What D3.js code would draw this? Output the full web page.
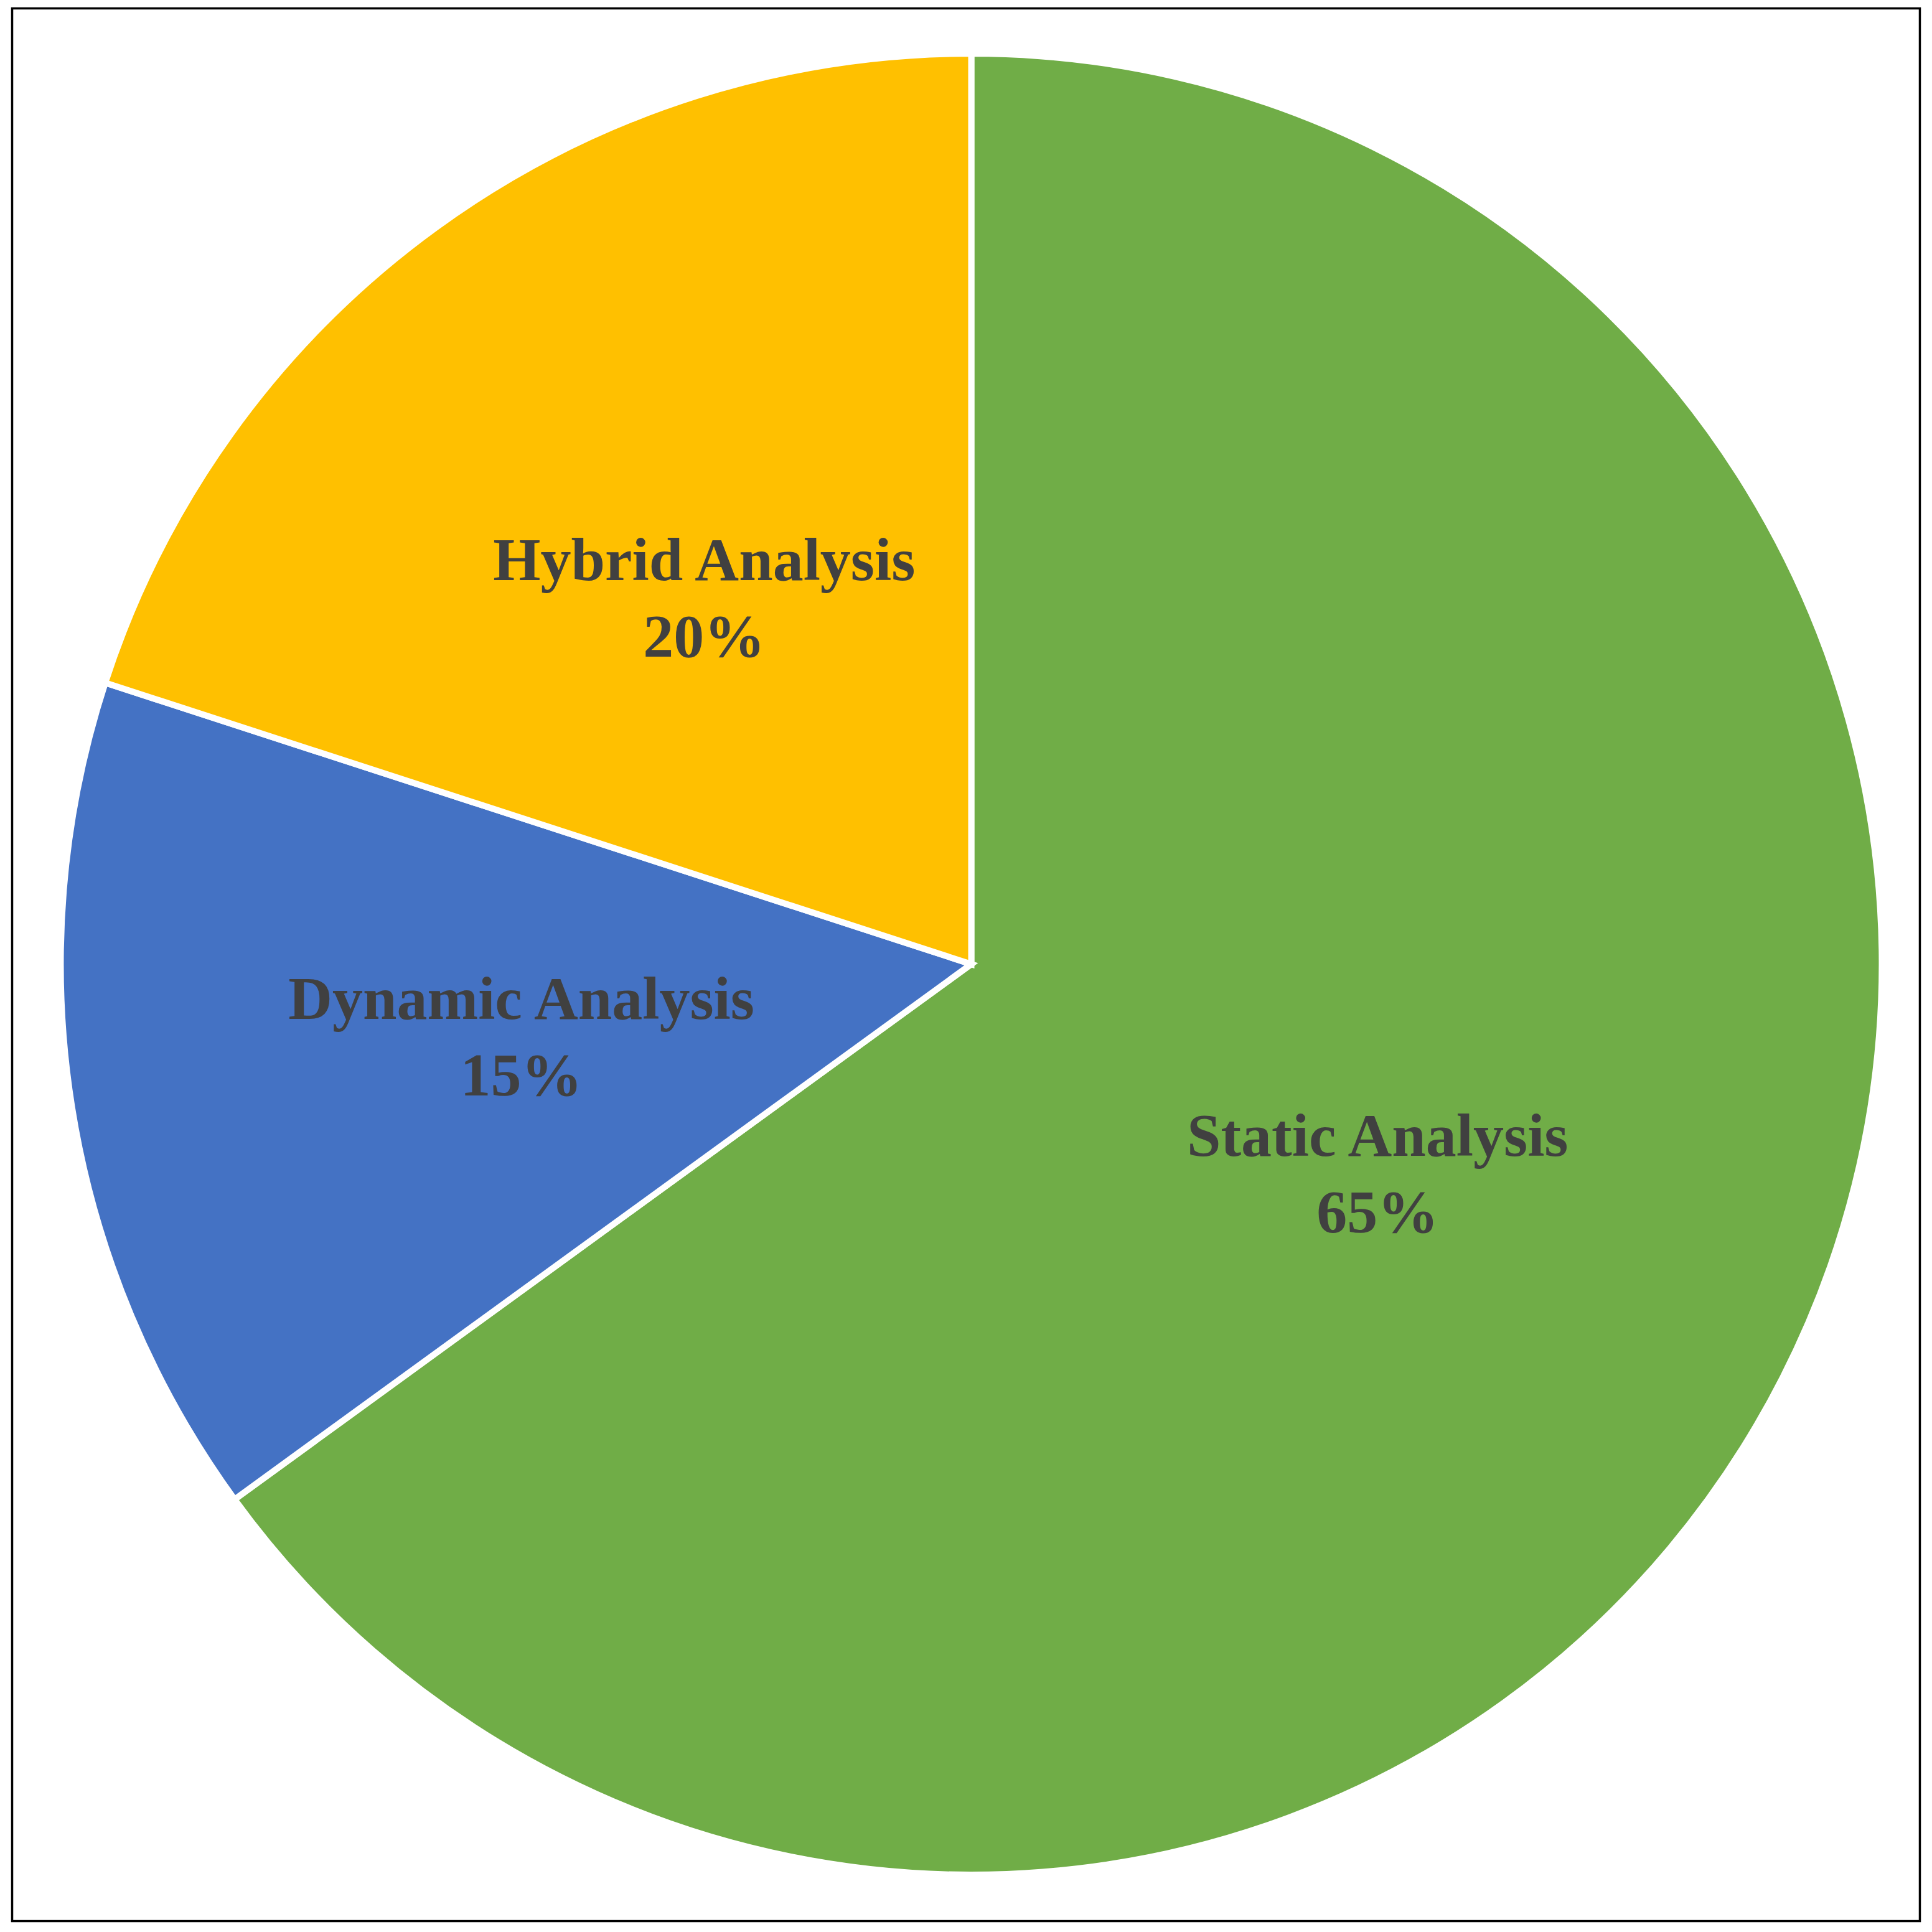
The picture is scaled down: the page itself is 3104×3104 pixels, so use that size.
<!DOCTYPE html>
<html>
<head>
<meta charset="utf-8">
<script src="https://cdn.jsdelivr.net/npm/d3@7"></script>
<style>
    body { margin: 0; background: #fff; }
    .slice-label { font-family: "Liberation Serif", "Times New Roman", serif; font-weight: bold; fill: #404040; }
</style>
</head>
<body>
<div id="chart"></div>
<script>
// data
var categories = ["Static Analysis", "Dynamic Analysis", "Hybrid Analysis"];
var shares = [65, 15, 20];
var sliceColors = ["#70AD47", "#4472C4", "#FFC000"];

// layout
var W = 3104, H = 3104;
var cx = 1560.5, cy = 1549, radius = 1463;
// where each label sits: fraction of radius and angle (deg, clockwise from north)
var labelRadius = [0.514, 0.506, 0.481];
var labelAngle = [119.5, 258.3, 322.3];

var svg = d3.select('#chart').append('svg')
    .attr('width', W)
    .attr('height', H);

svg.append('rect')
    .attr('x', 19.5).attr('y', 13.5)
    .attr('width', 3065).attr('height', 3073)
    .attr('fill', 'none')
    .attr('stroke', '#000')
    .attr('stroke-width', 3.5);

var pieData = categories.map(function (c, i) {
    return { name: c, value: shares[i], color: sliceColors[i], idx: i };
});

var pie = d3.pie()
    .sort(null)
    .value(d => d.value);

var arc = d3.arc()
    .innerRadius(0)
    .outerRadius(radius);

var g = svg.append('g')
    .attr('transform', `translate(${cx},${cy})`);

g.selectAll('.slice')
    .data(pie(pieData))
    .enter().append('path')
    .attr('class', 'slice')
    .attr('d', arc)
    .attr('fill', d => d.data.color)
    .attr('stroke', '#fff')
    .attr('stroke-width', 10)
    .attr('stroke-linejoin', 'miter');

var lineGap = 61.5;

g.selectAll('.label')
    .data(pie(pieData))
    .enter().append('g')
    .attr('class', 'label')
    .each(function (d, i) {
        let a = labelAngle[i] * Math.PI / 180;
        let r = labelRadius[i] * 1459;
        let x = Math.sin(a) * r,
            y = -Math.cos(a) * r;
        let lab = d3.select(this)
            .attr('transform', `translate(${x},${y})`);
        lab.append('text').attr('class', 'slice-label')
            .attr('text-anchor', 'middle')
            .attr('font-size', 98)
            .attr('y', -lineGap)
            .text(d.data.name);
        lab.append('text').attr('class', 'slice-label')
            .attr('text-anchor', 'middle')
            .attr('font-size', 98)
            .attr('y', lineGap)
            .text(d.data.value + '%');
    });
</script>
</body>
</html>
